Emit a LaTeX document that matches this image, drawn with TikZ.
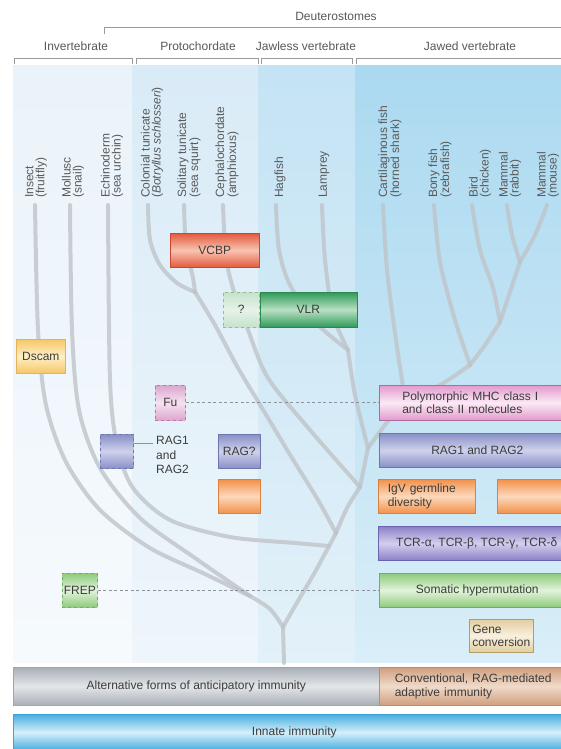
\documentclass[tikz,border=0pt]{standalone}
\usepackage{fontspec}
\setmainfont{Liberation Sans}
\usetikzlibrary{positioning}
\definecolor{txtgray}{HTML}{3C3C3C}
\definecolor{brkgray}{HTML}{9A9A9A}
\definecolor{treegray}{HTML}{BFC4C9}
\definecolor{dashgray}{HTML}{8C939B}
% column backgrounds
\definecolor{bgAtop}{HTML}{EAF3FA}
\definecolor{bgAbot}{HTML}{F6FAFD}
\definecolor{bgBtop}{HTML}{D9EBF7}
\definecolor{bgBbot}{HTML}{EEF6FB}
\definecolor{bgCtop}{HTML}{C4E3F4}
\definecolor{bgCbot}{HTML}{E3F1F9}
\definecolor{bgDtop}{HTML}{ABD9F0}
\definecolor{bgDbot}{HTML}{D9EEF8}
% box colours: border, edge, middle
\definecolor{vcbpdk}{HTML}{C8452E}
\definecolor{vcbped}{HTML}{E35A3D}
\definecolor{vcbpmd}{HTML}{F8C4B2}
\definecolor{vlrdk}{HTML}{2A8A4E}
\definecolor{vlred}{HTML}{2F9A58}
\definecolor{vlrmd}{HTML}{B9E0C4}
\definecolor{qdk}{HTML}{8CBF98}
\definecolor{qed}{HTML}{C6E2CB}
\definecolor{qmd}{HTML}{E6F3E8}
\definecolor{dscamdk}{HTML}{E3B25A}
\definecolor{dscamed}{HTML}{F7C766}
\definecolor{dscammd}{HTML}{FDEFC6}
\definecolor{fudk}{HTML}{B77AA9}
\definecolor{fued}{HTML}{DDA6CF}
\definecolor{fumd}{HTML}{F5E2EF}
\definecolor{ragdk}{HTML}{6F76AE}
\definecolor{raged}{HTML}{8990C6}
\definecolor{ragmd}{HTML}{CFD1EC}
\definecolor{ordk}{HTML}{D9823F}
\definecolor{ored}{HTML}{F2914A}
\definecolor{ormd}{HTML}{FCD9BC}
\definecolor{mhcdk}{HTML}{B06A9E}
\definecolor{mhced}{HTML}{E29ACD}
\definecolor{mhcmd}{HTML}{FBEAF5}
\definecolor{tcrdk}{HTML}{6E63AE}
\definecolor{tcred}{HTML}{8C7FC7}
\definecolor{tcrmd}{HTML}{D4CFEE}
\definecolor{somdk}{HTML}{6FAF63}
\definecolor{somed}{HTML}{8DCB7B}
\definecolor{sommd}{HTML}{E2F3DB}
\definecolor{genedk}{HTML}{B49B6B}
\definecolor{geneed}{HTML}{E3CDA0}
\definecolor{genemd}{HTML}{F8F0DF}
\definecolor{altdk}{HTML}{A0A6AC}
\definecolor{alted}{HTML}{A9AFB6}
\definecolor{altmd}{HTML}{E3E6E9}
\definecolor{addk}{HTML}{B98D6E}
\definecolor{aded}{HTML}{CF9F7E}
\definecolor{admd}{HTML}{F0DACA}
\definecolor{inndk}{HTML}{3DA4D8}
\definecolor{inned}{HTML}{45AEE0}
\definecolor{innmd}{HTML}{D6EFFA}
\tikzset{
  hdr/.style={font=\fontsize{12}{12}\selectfont, text=txtgray!85, inner sep=0pt},
  taxon/.style={rotate=90, anchor=west, align=left, inner sep=0pt,
    font=\fontsize{12}{11}\selectfont, text=txtgray!85},
  brk/.style={draw=brkgray, line width=0.6pt},
  tree/.style={draw=treegray, line width=4pt, line cap=round, line join=round, opacity=0.8},
  tube/.style n args={3}{draw=#1, top color=#2, bottom color=#2, middle color=#3,
    line width=0.6pt, inner sep=1pt, anchor=north west, text=txtgray},
  sz/.style 2 args={minimum width=#1, minimum height=#2},
  linkdash/.style={draw=dashgray, line width=0.7pt, dash pattern=on 3pt off 2.5pt},
  linksolid/.style={draw=dashgray, line width=0.7pt}
}
\begin{document}
\begin{tikzpicture}[x=1pt, y=-1pt, font=\fontsize{12}{13.5}\selectfont]
  \useasboundingbox (0,0) rectangle (561,749);
  \clip (0,0) rectangle (561,749);
  \fill[white] (0,0) rectangle (561,749);

  % header
  \node[hdr] (deut) at (336,16) {Deuterostomes};
  \draw[brk] (104,34) |- (575,27);
  \node[hdr] (invert) at (76,46) {Invertebrate};
  \node[hdr] (protoc) at (198,46) {Protochordate};
  \node[hdr] (jawless) at (306,46) {Jawless vertebrate};
  \node[hdr] (jawed) at (470,46) {Jawed vertebrate};
  \foreach \a/\b in {14/132, 136/258, 261/352, 356/575}
    \draw[brk] (\a,64) |- (\b,58) -- (\b,64);

  % column backgrounds
  \shade[top color=bgAtop, bottom color=bgAbot] (13,66) rectangle (132,662);
  \shade[top color=bgBtop, bottom color=bgBbot] (132,66) rectangle (258,662);
  \shade[top color=bgCtop, bottom color=bgCbot] (258,66) rectangle (355,662);
  \shade[top color=bgDtop, bottom color=bgDbot] (355,66) rectangle (561,662);

  % taxa
  \node[taxon] (insect) at (36,198) {Insect\\(fruitfly)};
  \node[taxon] (mollusc) at (73,198) {Mollusc\\(snail)};
  \node[taxon] (echino) at (112,198) {Echinoderm\\(sea urchin)};
  \node[taxon] (coltun) at (152,198) {Colonial tunicate\\({\itshape Botryllus schlosseri})};
  \node[taxon] (soltun) at (189,198) {Solitary tunicate\\(sea squirt)};
  \node[taxon] (cephalo) at (227,198) {Cephalochordate\\(amphioxus)};
  \node[taxon] (hagfish) at (280,198) {Hagfish};
  \node[taxon] (lamprey) at (324,198) {Lamprey};
  \node[taxon] (shark) at (390,198) {Cartilaginous fish\\(horned shark)};
  \node[taxon] (bony) at (440,198) {Bony fish\\(zebrafish)};
  \node[taxon] (bird) at (480,198) {Bird\\(chicken)};
  \node[taxon] (rabbit) at (510,198) {Mammal\\(rabbit)};
  \node[taxon] (mouse) at (548,198) {Mammal\\(mouse)};

  % branch points
  \coordinate (jroot) at (283,627);
  \coordinate (jproto) at (250,596);
  \coordinate (jchord) at (336,533);
  \coordinate (jtunic) at (195,292);
  \coordinate (jvert) at (360,487);
  \coordinate (jvtx) at (368,448);
  \coordinate (jjawl) at (348,350);
  \coordinate (jgnath) at (405,400);
  \coordinate (josteo) at (470,365);
  \coordinate (jamnio) at (500,322);
  \coordinate (jmamm) at (520,262);

  % tree
  \draw[tree] plot[smooth] coordinates {(35,205) (38,330) (46,405) (66,462) (100,510) (150,548) (205,574) (jproto)};
  \draw[tree] plot[smooth] coordinates {(70,205) (72,330) (79,410) (100,468) (140,518) (195,558) (jproto)};
  \draw[tree] plot[smooth] coordinates {(jproto) (270,609) (jroot)};
  \draw[tree] (jroot) -- (284,663);
  \draw[tree] plot[smooth] coordinates {(108,205) (110,380) (117,445) (133,488) (170,520) (230,537) (295,543) (329,546)};
  \draw[tree] plot[smooth] coordinates {(jchord) (315,572) (295,606) (jroot)};
  \draw[tree] plot[smooth] coordinates {(148,205) (150,240) (160,265) (177,283) (jtunic)};
  \draw[tree] plot[smooth] coordinates {(184,205) (186,245) (193,278) (jtunic)};
  \draw[tree] plot[smooth] coordinates {(jtunic) (215,325) (238,368) (262,408) (292,458) (318,500) (jchord)};
  \draw[tree] plot[smooth] coordinates {(223,205) (226,258) (235,295) (248,330) (268,378) (310,430) (jvert)};
  \draw[tree] plot[smooth] coordinates {(jvert) (347,508) (jchord)};
  \draw[tree] plot[smooth] coordinates {(276,205) (279,250) (290,285) (315,322) (jjawl)};
  \draw[tree] plot[smooth] coordinates {(322,205) (325,260) (333,315) (jjawl)};
  \draw[tree] plot[smooth] coordinates {(jjawl) (355,395) (jvtx)};
  \draw[tree] plot[smooth] coordinates {(jgnath) (385,425) (jvtx)};
  \draw[tree] (jvtx) -- (jvert);
  \draw[tree] plot[smooth] coordinates {(383,205) (387,270) (396,340) (jgnath)};
  \draw[tree] plot[smooth] coordinates {(josteo) (440,385) (jgnath)};
  \draw[tree] plot[smooth] coordinates {(434,205) (440,262) (455,320) (josteo)};
  \draw[tree] plot[smooth] coordinates {(jamnio) (485,345) (josteo)};
  \draw[tree] plot[smooth] coordinates {(472,205) (480,250) (493,288) (jamnio)};
  \draw[tree] plot[smooth] coordinates {(jmamm) (510,292) (jamnio)};
  \draw[tree] plot[smooth] coordinates {(507,205) (512,235) (jmamm)};
  \draw[tree] plot[smooth] coordinates {(547,205) (535,235) (jmamm)};

  % boxes on the tree
  \node[tube={dscamdk}{dscamed}{dscammd}, sz={49}{34}] (dscam) at (16,339) {Dscam};
  \node[tube={vcbpdk}{vcbped}{vcbpmd}, sz={89}{34}] (vcbp) at (170,233) {VCBP};
  \node[tube={qdk}{qed}{qmd}, dashed, sz={36}{35}] (vlrq) at (223,292) {?};
  \node[tube={vlrdk}{vlred}{vlrmd}, sz={97}{35}, right=0pt of vlrq] (vlr) {VLR};
  \node[tube={fudk}{fued}{fumd}, dashed, sz={30}{35}] (fu) at (155,385) {Fu};
  \node[tube={ragdk}{raged}{ragmd}, dashed, sz={33}{34}] (echrag) at (100,434) {};
  \node[anchor=north west, align=left, inner sep=0pt, font=\fontsize{12}{14.5}\selectfont,
    text=txtgray] (echragtxt) at (156,436) {RAG1\\and\\RAG2};
  \node[tube={ragdk}{raged}{ragmd}, sz={42}{34}] (ragq) at (218,434) {RAG?};
  \node[tube={ordk}{ored}{ormd}, sz={42}{34}] (igvq) at (218,479) {};
  \node[tube={somdk}{somed}{sommd}, dashed, sz={35}{34}] (frep) at (62,573) {FREP};

  % jawed vertebrate features
  \node[tube={mhcdk}{mhced}{mhcmd}, sz={196}{35}, align=left, text width=150] (mhc) at (379,385)
    {Polymorphic MHC class I\\and class II molecules};
  \node[tube={ragdk}{raged}{ragmd}, sz={196}{34}] (rag) at (379,433) {RAG1 and RAG2};
  \node[tube={ordk}{ored}{ormd}, sz={97}{34}, align=left, text width=78] (igv) at (378,479)
    {IgV germline\\diversity};
  \node[tube={ordk}{ored}{ormd}, sz={78}{34}] (igvb) at (497,479) {};
  \node[tube={tcrdk}{tcred}{tcrmd}, sz={197}{34}] (tcr) at (378,526) {TCR-α, TCR-β, TCR-γ, TCR-δ};
  \node[tube={somdk}{somed}{sommd}, sz={196}{34}] (somatic) at (379,573) {Somatic hypermutation};
  \node[tube={genedk}{geneed}{genemd}, sz={64}{33}, align=left, text width=58] (gene) at (469,619)
    {Gene\\conversion};

  % links
  \draw[linkdash] (fu.east) -- (fu.east -| mhc.west);
  \draw[linkdash] (frep.east) -- (frep.east -| somatic.west);
  \draw[linksolid] ([yshift=-9pt]echrag.north east) -- ([xshift=-3pt, yshift=-7pt]echragtxt.north west);

  % immunity bars
  \node[tube={altdk}{alted}{altmd}, sz={366}{38}] (alt) at (13,667) {Alternative forms of anticipatory immunity};
  \node[tube={addk}{aded}{admd}, sz={196}{38}, align=left, text width=165] (adapt) at (379,667)
    {Conventional, RAG-mediated\\adaptive immunity};
  \node[tube={inndk}{inned}{innmd}, sz={562}{36}] (innate) at (13,714) {Innate immunity};
\end{tikzpicture}
\end{document}
